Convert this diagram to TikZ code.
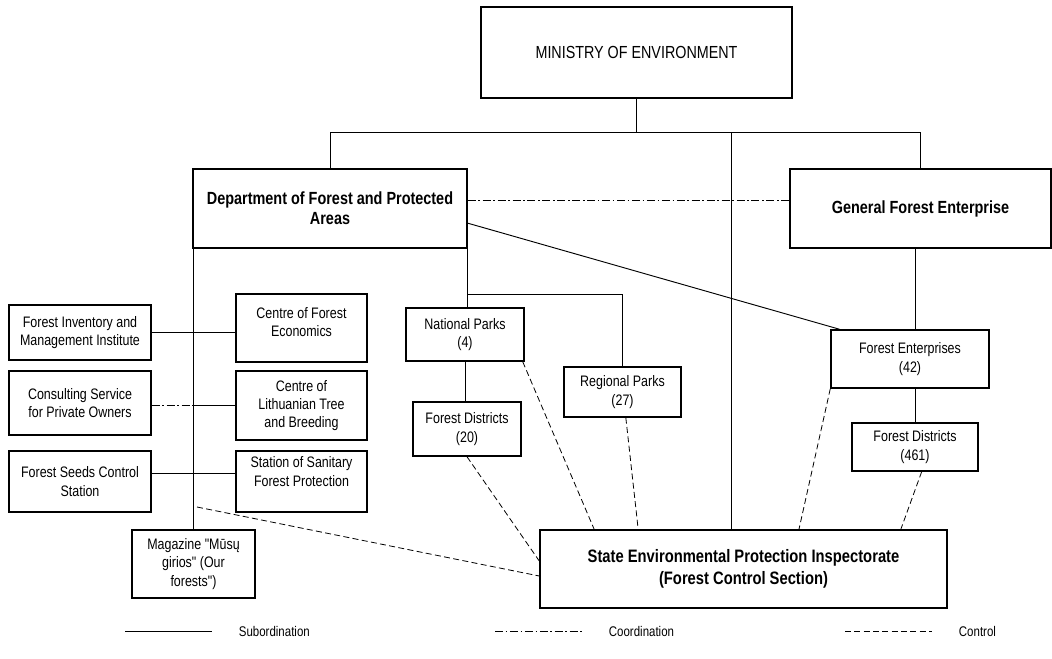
\documentclass[tikz,border=0pt]{standalone}
\usepackage{fontspec}
\setmainfont{Liberation Sans}[FakeStretch=0.82,Ligatures=TeXOff]
\begin{document}
\begin{tikzpicture}[x=0.75pt,y=-0.75pt,
    box/.style={draw,line width=1.1pt,inner sep=0pt,align=center,font=\fontsize{11.4}{13.7}\selectfont},
    bigbox/.style={box,font=\fontsize{13.2}{15}\selectfont\bfseries},
    subline/.style={line width=.7pt},
    coordline/.style={line width=.7pt,dash pattern=on 6pt off 2pt on 1.2pt off 2pt},
    ctrlline/.style={line width=.6pt,dash pattern=on 4.5pt off 2.5pt}]
    \useasboundingbox (0,0) rectangle (1052,659);
    % top level
    \node[bigbox,minimum width=233.25pt,minimum height=68.25pt,font=\fontsize{13.1}{15}\selectfont] at (636.5,52.5)(ministry){MINISTRY OF ENVIRONMENT};
    \node[bigbox,minimum width=205.5pt,minimum height=59.25pt] at (330,208.5)(dept){Department of Forest and Protected\\Areas};
    \node[bigbox,minimum width=195.75pt,minimum height=59.25pt] at (920.5,208.5)(gfe){General Forest Enterprise};
    \node[bigbox,minimum width=305.25pt,minimum height=58.5pt,font=\fontsize{13.5}{16.3}\selectfont\bfseries] at (743.5,569)(state){State Environmental Protection Inspectorate\\(Forest Control Section)};
    % institutions
    \node[box,minimum width=106.5pt,minimum height=41.25pt] at (80,332.5)(fimi){Forest Inventory and\\Management Institute};
    \node[box,minimum width=106.5pt,minimum height=48pt] at (80,403)(cons){Consulting Service\\for Private Owners};
    \node[box,minimum width=106.5pt,minimum height=45.75pt] at (80,481.5)(seeds){Forest Seeds Control\\Station};
    \node[box,minimum width=98.25pt,minimum height=51pt,text depth=9pt] at (301.5,328)(cfe){Centre of Forest\\Economics};
    \node[box,minimum width=98.25pt,minimum height=51.75pt] at (301.5,405.5)(clt){Centre of\\Lithuanian Tree\\and Breeding};
    \node[box,minimum width=98.25pt,minimum height=45.75pt,text depth=15pt] at (301.5,481.5)(station){Station of Sanitary\\Forest Protection};
    \node[box,minimum width=92.25pt,minimum height=51pt] at (193.5,564)(mag){Magazine "Mūsų\\girios" (Our\\forests")};
    % parks and enterprises
    \node[box,minimum width=88.5pt,minimum height=39.75pt] at (465,334.5)(np){National Parks\\(4)};
    \node[box,minimum width=81pt,minimum height=40.5pt] at (467,429)(fdnp){Forest Districts\\(20)};
    \node[box,minimum width=87.75pt,minimum height=37.5pt] at (622.5,392)(rp){Regional Parks\\(27)};
    \node[box,minimum width=118.5pt,minimum height=43.5pt] at (910,359)(fe){Forest Enterprises\\(42)};
    \node[box,minimum width=94.5pt,minimum height=36pt] at (915,447)(fdfe){Forest Districts\\(461)};
    % subordination
    \coordinate (hub) at (731,133);
    \draw[subline] (ministry.south) -- (ministry.south |- hub);
    \draw[subline] (dept.north) -- ++(0,-36) -| (gfe.north);
    \draw[subline] (hub) -- (hub |- state.north);
    \draw[subline] (mag.north |- dept.south) -- (mag.north);
    \draw[subline] (dept.south east) -- (dept.south east |- np.north);
    \draw[subline] (dept.south east |- 0,294) -| (rp.north);
    \draw[subline] (np.south) -- (np.south |- fdnp.north);
    \draw[subline] (gfe.south -| fdfe.north) -- (fe.north -| fdfe.north);
    \draw[subline] (fe.south -| fdfe.north) -- (fdfe.north);
    \draw[subline] ([yshift=-11pt]dept.east) -- ([xshift=7pt]fe.north west);
    \draw[subline] (fimi.east) -- (fimi.east -| cfe.west);
    \draw[subline] ([yshift=-2pt]cons.east -| mag.north) -- ([yshift=-2pt]cons.east -| clt.west);
    \draw[subline] ([yshift=6pt]seeds.east) -- ([yshift=6pt]seeds.east -| station.west);
    % coordination
    \draw[coordline] ([yshift=6pt]dept.east) -- ([yshift=6pt]gfe.west);
    \draw[coordline] ([yshift=-2pt]cons.east) -- ([yshift=-2pt]cons.east -| mag.north);
    % control
    \coordinate (ctl) at (197,507);
    \draw[ctrlline] (ctl) -- ([yshift=-5.25pt]state.west);
    \draw[ctrlline] (fdnp.south) -- ([yshift=6pt]state.west);
    \draw[ctrlline] ([xshift=-1.5pt]np.south east) -- ([xshift=-112pt]state.north);
    \draw[ctrlline] ([xshift=2.5pt]rp.south) -- ([xshift=-79pt]state.north);
    \draw[ctrlline] (fe.south west) -- ([xshift=41.6pt]state.north);
    \draw[ctrlline] ([xshift=5pt]fdfe.south) -- ([xshift=118pt]state.north);
    % legend
    \foreach \lstyle/\ltext/\lx in {subline/Subordination/125,coordline/Coordination/495,ctrlline/Control/845}{
        \coordinate (l\ltext) at (\lx,631);
        \draw[\lstyle] (l\ltext) -- ++(87,0) coordinate (r\ltext);
        \node[anchor=west,inner sep=0pt,font=\fontsize{10.5}{12}\selectfont] at ([xshift=20pt]r\ltext)(t\ltext){\ltext};
    }
\end{tikzpicture}
\end{document}
